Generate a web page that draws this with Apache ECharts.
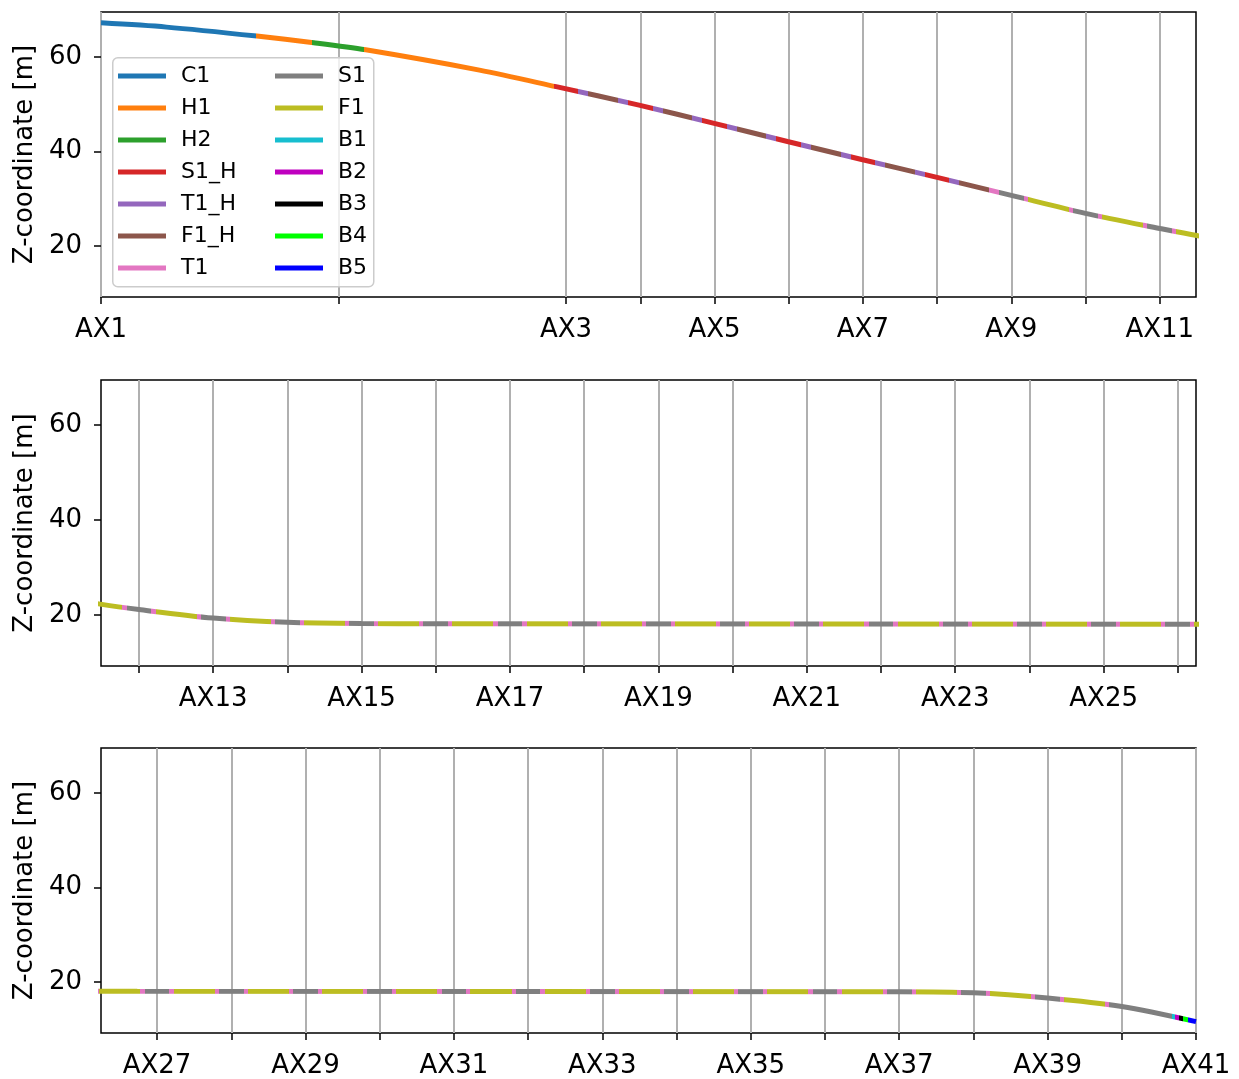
<!DOCTYPE html>
<html>
<head>
<meta charset="utf-8">
<script src="https://cdn.jsdelivr.net/npm/echarts@6/dist/echarts.min.js"></script>
<style>
html,body{margin:0;padding:0;background:#ffffff;}
#chart{width:1239px;height:1079px;}
</style>
</head>
<body>
<div id="chart"></div>
<script>
// ---------------- data ----------------
const axLabels = ['AX1','AX2','AX3','AX4','AX5','AX6','AX7','AX8','AX9','AX10',
  'AX11','AX12','AX13','AX14','AX15','AX16','AX17','AX18','AX19','AX20',
  'AX21','AX22','AX23','AX24','AX25','AX26','AX27','AX28','AX29','AX30',
  'AX31','AX32','AX33','AX34','AX35','AX36','AX37','AX38','AX39','AX40','AX41'];
const axPositions = [0, 96, 188, 218, 248, 278, 308, 338, 368, 398,
  428, 458, 488, 518, 548, 578, 608, 638, 668, 698,
  728, 758, 788, 818, 848, 878, 908, 938, 968, 998,
  1028, 1058, 1088, 1118, 1148, 1178, 1208, 1238, 1268, 1298, 1328];
const labeledAx = ['AX1','AX3','AX5','AX7','AX9','AX11','AX13','AX15','AX17','AX19','AX21',
  'AX23','AX25','AX27','AX29','AX31','AX33','AX35','AX37','AX39','AX41'];

// elevation profile (station [m], Z [m])
const profileX = [0, 26.5, 63, 86, 107, 153, 184, 217.5, 247.5, 277.5, 307.5, 338, 368, 398, 428,
  443, 458, 488, 518, 548, 578, 900, 1208, 1238, 1268, 1298, 1328];
const profileZ = [67.2, 66.3, 64.4, 63.0, 61.5, 57.2, 53.7, 49.8, 46.0, 42.1, 38.3, 34.5, 30.7, 26.9, 23.7,
  22.2, 21.1, 19.3, 18.4, 18.15, 18.12, 18.02, 17.93, 17.7, 16.6, 14.8, 11.6];

const elementNames = ['C1','H1','H2','S1_H','T1_H','F1_H','T1','S1','F1','B1','B2','B3','B4','B5'];
const elementColors = ['#1f77b4','#ff7f0e','#2ca02c','#d62728','#9467bd','#8c564b','#e377c2',
  '#7f7f7f','#bcbd22','#17becf','#bf00bf','#000000','#00ff00','#0000ff'];
const legendCol1 = ['C1','H1','H2','S1_H','T1_H','F1_H','T1'];
const legendCol2 = ['S1','F1','B1','B2','B3','B4','B5'];

// element layout along the alignment (lengths in m)
const headEnds = [62.5, 85.5, 106.5];
const headTypes = ['C1','H1','H2','H1'];
const lastHybridPier = 'AX8';
const supportHalf = 5;
const hybridTransLen = 4;
const normalTransLen = 1.7;
const tailStarts = [1318.2, 1319.6, 1321.2, 1322.9, 1324.9];
const tailTypes = ['B1','B2','B3','B4','B5'];

const totalLength = 1328;
const panelCount = 3;
const yMin = 9.2, yMax = 69.5;
const yTicks = [20, 40, 60];

// ---------------- build ----------------
const FONT = 'DejaVu Sans';
const colorOf = {};
elementNames.forEach((n, i) => colorOf[n] = elementColors[i]);

const segs = [];
let cur = 0;
headTypes.forEach((t, i) => {
  const end = i < headEnds.length ? headEnds[i] : axPositions[2] - supportHalf;
  segs.push([cur, end, t]); cur = end;
});
const lastHybridIdx = axLabels.indexOf(lastHybridPier);
const lastPierIdx = axLabels.length - 2;
for (let i = 2; i <= lastPierIdx; i++) {
  const p = axPositions[i];
  const hyb = i <= lastHybridIdx;
  const sEnd = i === lastPierIdx ? tailStarts[0] : p + supportHalf;
  segs.push([p - supportHalf, sEnd, hyb ? 'S1_H' : 'S1']);
  if (i === lastPierIdx) break;
  const a = p + supportHalf, b = axPositions[i + 1] - supportHalf;
  if (i < lastHybridIdx) {
    segs.push([a, a + hybridTransLen, 'T1_H'], [a + hybridTransLen, b - hybridTransLen, 'F1_H'], [b - hybridTransLen, b, 'T1_H']);
  } else if (i === lastHybridIdx) {
    segs.push([a, a + hybridTransLen, 'T1_H'], [a + hybridTransLen, b - hybridTransLen, 'F1_H'], [b - hybridTransLen, b, 'T1']);
  } else {
    segs.push([a, a + normalTransLen, 'T1'], [a + normalTransLen, b - normalTransLen, 'F1'], [b - normalTransLen, b, 'T1']);
  }
}
tailTypes.forEach((t, k) => {
  segs.push([tailStarts[k], k + 1 < tailStarts.length ? tailStarts[k + 1] : totalLength + 50, t]);
});
const pieces = segs.map(s => ({ gte: s[0], lt: s[1], color: colorOf[s[2]] }));

const profileData = profileX.map((x, i) => [x, profileZ[i]]);
const labeledPositions = labeledAx.map(l => axPositions[axLabels.indexOf(l)]);
function axName(v) {
  for (let i = 0; i < axPositions.length; i++) if (Math.abs(axPositions[i] - v) < 1e-6) return axLabels[i];
  return '';
}

const gridTops = [12, 380, 748];
const gridHeights = [285, 286, 286];
const grids = [], xAxes = [], yAxes = [], series = [];
for (let p = 0; p < panelCount; p++) {
  grids.push({ left: 101, width: 1095, top: gridTops[p], height: gridHeights[p], show: true,
    borderColor: '#000', borderWidth: 1.5, backgroundColor: 'transparent' });
  xAxes.push({ type: 'value', gridIndex: p,
    min: p * totalLength / panelCount, max: (p + 1) * totalLength / panelCount,
    axisLine: { show: false },
    axisTick: { show: true, customValues: axPositions, length: 7, lineStyle: { color: '#000', width: 1.5 } },
    axisLabel: { customValues: labeledPositions, formatter: v => axName(v), fontSize: 26, fontFamily: FONT, color: '#000', margin: 20 },
    splitLine: { show: true, lineStyle: { color: '#b0b0b0', width: 2 } } });
  yAxes.push({ type: 'value', gridIndex: p, min: yMin, max: yMax,
    name: 'Z-coordinate [m]', nameLocation: 'middle', nameGap: 60,
    nameTextStyle: { fontSize: 26, fontFamily: FONT, color: '#000' },
    axisLine: { show: false },
    axisTick: { show: true, customValues: yTicks, length: 7, lineStyle: { color: '#000', width: 1.5 } },
    axisLabel: { customValues: yTicks, fontSize: 26, fontFamily: FONT, color: '#000', margin: 19 },
    splitLine: { show: false } });
  series.push({ type: 'line', xAxisIndex: p, yAxisIndex: p, data: profileData,
    symbol: 'none', showSymbol: false, smooth: 0.3, lineStyle: { width: 5 }, z: 3, silent: true });
}
elementNames.forEach((n, i) => {
  series.push({ type: 'line', name: n, xAxisIndex: 0, yAxisIndex: 0, data: [],
    itemStyle: { color: elementColors[i] }, lineStyle: { color: elementColors[i] } });
});

const legendBase = { orient: 'vertical', top: 65, itemWidth: 48, itemHeight: 5, itemGap: 10,
  icon: 'rect', padding: 0, selectedMode: false, z: 20,
  textStyle: { fontSize: 22, fontFamily: FONT, color: '#000', lineHeight: 20, padding: [0, 0, 0, 10] } };

const chart = echarts.init(document.getElementById('chart'), null, { renderer: 'canvas' });
chart.setOption({
  backgroundColor: '#ffffff',
  animation: false,
  grid: grids,
  xAxis: xAxes,
  yAxis: yAxes,
  visualMap: { type: 'piecewise', show: false, dimension: 0, seriesIndex: [0, 1, 2], pieces: pieces,
    outOfRange: { color: '#999999' } },
  legend: [
    Object.assign({}, legendBase, { data: legendCol1, left: 118 }),
    Object.assign({}, legendBase, { data: legendCol2, left: 275 })
  ],
  graphic: [{ type: 'rect', left: 112, top: 57, z: 10, silent: true,
    shape: { width: 261, height: 229, r: 5 },
    style: { fill: 'rgba(255,255,255,0.8)', stroke: '#cccccc', lineWidth: 1.5 } }],
  series: series
});
</script>
</body>
</html>
